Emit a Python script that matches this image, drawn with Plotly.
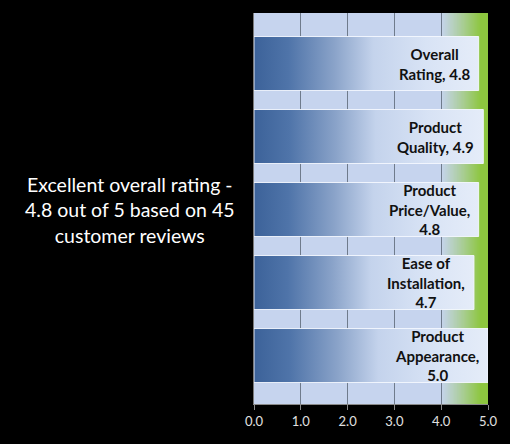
import plotly.graph_objects as go

categories = ["Overall Rating", "Product Quality", "Product Price/Value", "Ease of Installation", "Product Appearance"]
label_texts = ["Overall<br>Rating, 4.8", "Product<br>Quality, 4.9", "Product<br>Price/Value,<br>4.8",
               "Ease of<br>Installation,<br>4.7", "Product<br>Appearance,<br>5.0"]
ratings = [4.8, 4.9, 4.8, 4.7, 5.0]
tick_vals = [0, 1, 2, 3, 4, 5]
tick_labels = ["0.0", "1.0", "2.0", "3.0", "4.0", "5.0"]
summary = "Excellent overall rating -<br>4.8 out of 5 based on 45<br>customer reviews"

HALF = 0.37
bar_scale = [[0, "#3c6299"], [0.15, "#4f74a9"], [0.35, "#8aa3c9"], [0.52, "#c4d3ec"], [0.75, "#d8e3f5"], [1, "#e6edf9"]]

fig = go.Figure()

for i, v in enumerate(ratings):
    fig.add_trace(go.Scatter(
        x=[0, v, v, 0, 0], y=[i - HALF, i - HALF, i + HALF, i + HALF, i - HALF],
        mode="lines", fill="toself", name=categories[i],
        line=dict(color="rgba(245,248,255,0.9)", width=1),
        fillgradient=dict(type="horizontal", colorscale=bar_scale, start=0, stop=v),
        hoverinfo="skip", showlegend=False,
    ))
    fig.add_annotation(x=v, y=i, xref="x", yref="y", text="<b>" + label_texts[i] + "</b>",
                       showarrow=False, xanchor="right", yanchor="middle", align="center",
                       xshift=-7, font=dict(family="Lato", size=15, color="#111111"))

# background gradient towards green
def mix(c1, c2, t):
    return "rgb(%d,%d,%d)" % tuple(round(a + (b - a) * t) for a, b in zip(c1, c2))

bg = (198, 212, 238)
green = (141, 198, 63)
N = 40
g0, g1 = 4.0, 4.85
shapes = []
for k in range(N):
    xa = g0 + (g1 - g0) * k / N
    xb = g0 + (g1 - g0) * (k + 1) / N + 0.005
    shapes.append(dict(type="rect", xref="x", yref="paper", x0=xa, x1=xb, y0=0, y1=1,
                       fillcolor=mix(bg, green, (k + 0.5) / N), line=dict(width=0), layer="below"))
shapes.append(dict(type="rect", xref="x", yref="paper", x0=g1, x1=5.0, y0=0, y1=1,
                   fillcolor=mix(bg, green, 1), line=dict(width=0), layer="below"))

fig.add_annotation(xref="paper", yref="y", x=-0.53, y=2, text=summary, showarrow=False,
                   xanchor="center", yanchor="middle", align="center",
                   font=dict(family="Lato", size=19.5, color="white"))

fig.update_layout(
    width=510, height=444,
    margin=dict(l=254, r=17, t=13, b=40),
    paper_bgcolor="black", plot_bgcolor="#c6d4ee",
    shapes=shapes, showlegend=False,
    xaxis=dict(range=[0, 5], tickvals=tick_vals, ticktext=tick_labels,
               showgrid=True, gridcolor="#6f7b8c", gridwidth=1, zeroline=False,
               showline=True, linecolor="#8a8a8a", linewidth=1,
               ticks="outside", ticklen=5, tickcolor="#8a8a8a",
               tickfont=dict(family="Lato", size=13, color="#e0e0e0"), fixedrange=True),
    yaxis=dict(range=[4.664, -0.692], showgrid=False, zeroline=False, showticklabels=False,
               showline=True, linecolor="#7a7a7a", linewidth=1, fixedrange=True),
)

fig.write_html("out.html", config={"displayModeBar": False},
               post_script="document.body.style.margin='0';document.body.style.background='black';")
